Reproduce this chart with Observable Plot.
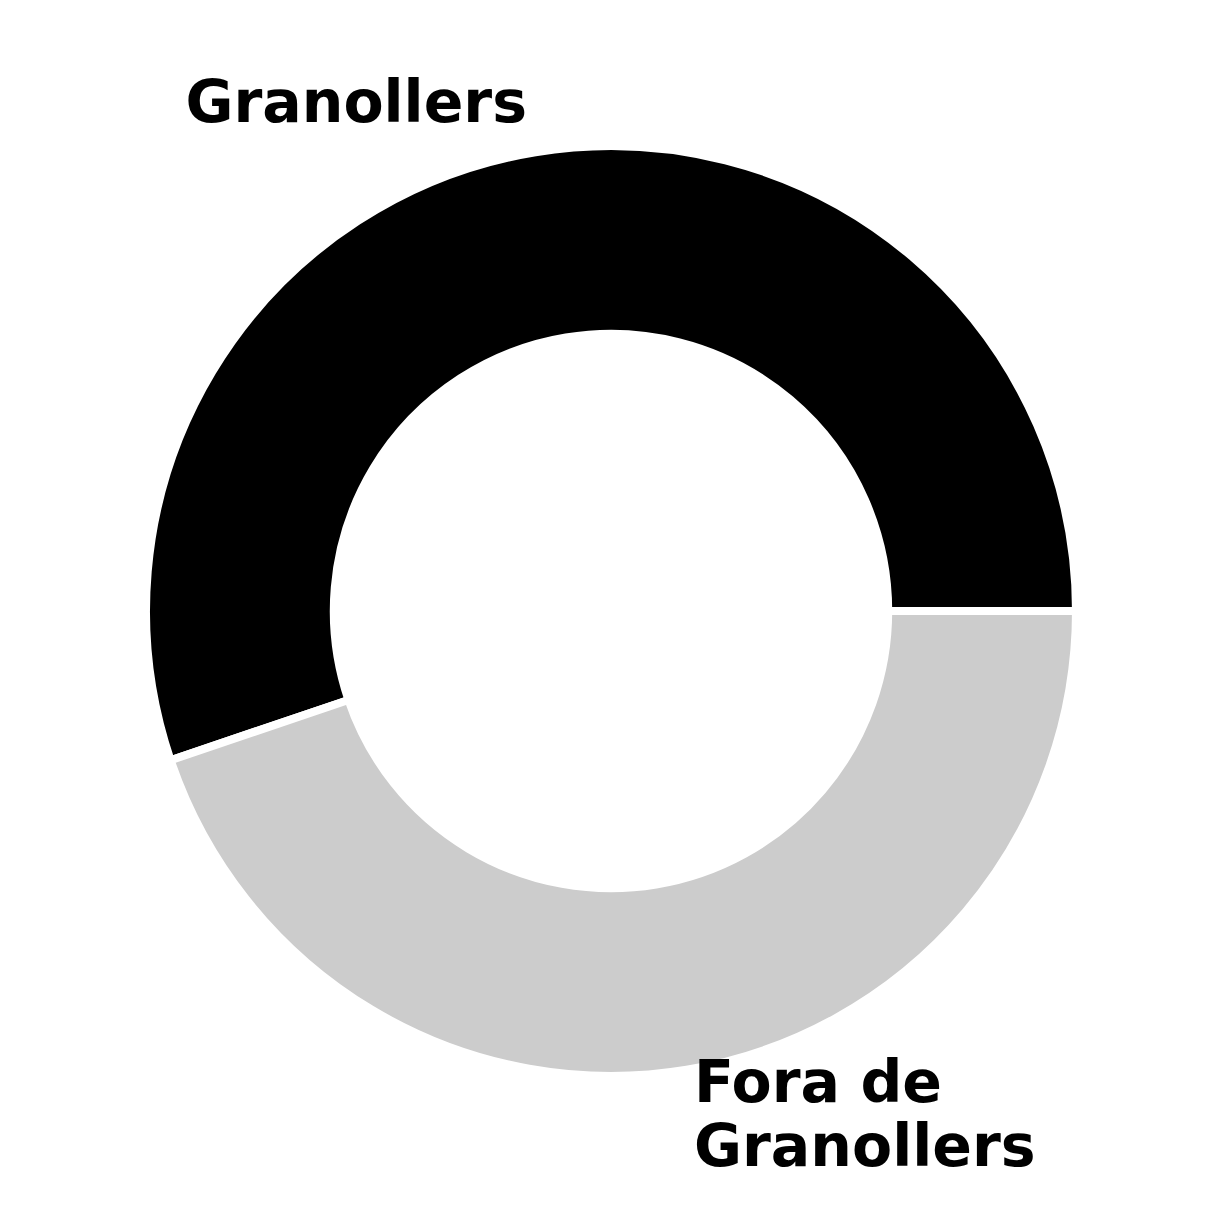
<!DOCTYPE html>
<html><head><meta charset="utf-8">
<script src="https://cdn.jsdelivr.net/npm/d3@7"></script>
<script src="https://cdn.jsdelivr.net/npm/@observablehq/plot@0.6"></script>
<style>body{margin:0;background:#fff}</style>
</head><body><div id="chart"></div>
<script>
const categories = ["Granollers", "Fora de\nGranollers"];
const values = [55.2, 44.8];
const colors = ["#000000", "#cccccc"];

const W = 1222, H = 1222;
const R = 1.3254; // half-extent of the data domain (outer radius = 1)
const innerFrac = 0.61;

const pie = d3.pie().sort(null).startAngle(Math.PI / 2).endAngle(Math.PI / 2 - 2 * Math.PI);
const arcs = pie(values).map((a, i) => ({...a, name: categories[i], color: colors[i]}));

const labels = arcs.map((a, i) => {
  const m = (a.startAngle + a.endAngle) / 2;
  return {name: a.name, x: 1.1 * Math.sin(m), y: 1.1 * Math.cos(m), anchor: Math.sin(m) < 0 ? "end" : "start"};
});

function donut(index, scales, values_, dimensions) {
  const cx = scales.x(0), cy = scales.y(0);
  const r = scales.x(1) - scales.x(0);
  const sw = 8;
  const arc = d3.arc().innerRadius(r * innerFrac - sw / 2).outerRadius(r + sw / 2);
  const g = d3.create("svg:g").attr("transform", `translate(${cx},${cy})`);
  g.selectAll("path").data(arcs).join("path")
    .attr("d", arc)
    .attr("fill", d => d.color)
    .attr("stroke", "white")
    .attr("stroke-width", sw)
    .attr("stroke-linejoin", "miter");
  return g.node();
}

const chart = Plot.plot({
  width: W, height: H,
  margin: 0,
  x: {domain: [-R, R], axis: null},
  y: {domain: [-R, R], axis: null},
  style: {fontFamily: "DejaVu Sans", background: "white"},
  marks: [
    donut,
    Plot.text(labels.filter(d => d.anchor === "end"), {x: "x", y: "y", text: "name", textAnchor: "end", lineAnchor: "middle", dx: -2, dy: -9, fontSize: 58.5, fontWeight: "bold", fill: "black", lineHeight: 1.08}),
    Plot.text(labels.filter(d => d.anchor === "start"), {x: "x", y: "y", text: "name", textAnchor: "start", lineAnchor: "middle", dy: 2, fontSize: 58.5, fontWeight: "bold", fill: "black", lineHeight: 1.08})
  ]
});
document.getElementById("chart").appendChild(chart);
</script>
</body></html>
